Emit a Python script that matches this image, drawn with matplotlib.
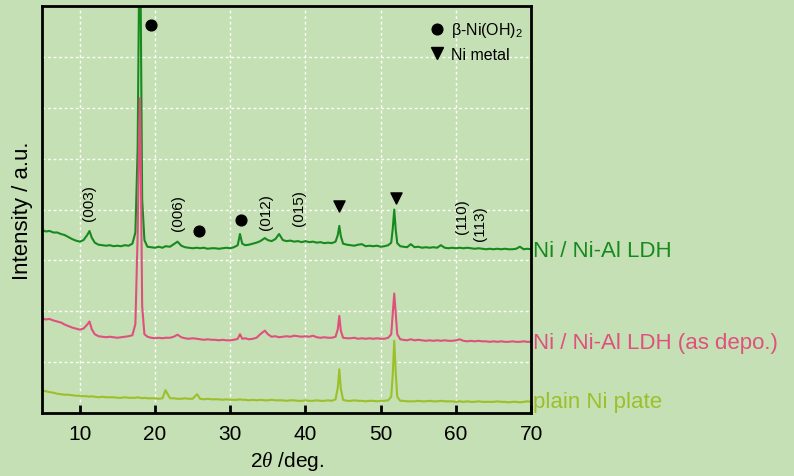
import matplotlib
matplotlib.use("Agg")
import matplotlib.pyplot as plt
from matplotlib.lines import Line2D

plt.rcParams['font.family'] = ['Liberation Sans', 'DejaVu Sans']
plt.rcParams['mathtext.fontset'] = 'custom'
plt.rcParams['mathtext.rm'] = 'Liberation Sans'
plt.rcParams['mathtext.it'] = 'Liberation Serif:italic'

# 2theta sampling (deg), shared by the three patterns
two_theta = [
    5.0, 5.5, 6.0, 6.5, 7.0, 7.5, 8.0, 8.5, 9.0, 9.5,
    10.0, 10.5, 11.0, 11.3, 11.6, 12.0, 12.5, 13.0, 13.5, 14.0,
    14.5, 15.0, 15.5, 16.0, 16.5, 17.0, 17.4, 17.7, 17.9, 18.0,
    18.1, 18.3, 18.6, 19.0, 19.5, 20.0, 20.5, 21.0, 21.4, 22.0,
    22.5, 23.0, 23.5, 24.0, 24.5, 25.0, 25.6, 26.0, 26.5, 27.0,
    27.5, 28.0, 28.5, 29.0, 29.5, 30.0, 30.5, 31.0, 31.3, 31.6,
    32.0, 32.5, 33.0, 33.5, 34.0, 34.6, 35.0, 35.5, 36.0, 36.5,
    37.0, 37.5, 38.0, 38.5, 39.0, 39.5, 40.0, 40.5, 41.0, 41.5,
    42.0, 42.5, 43.0, 43.5, 44.0, 44.3, 44.5, 44.7, 45.0, 45.5,
    46.0, 46.5, 47.0, 47.5, 48.0, 48.5, 49.0, 49.5, 50.0, 50.5,
    51.0, 51.4, 51.6, 51.8, 52.0, 52.2, 52.6, 53.0, 53.5, 54.0,
    54.5, 55.0, 55.5, 56.0, 56.5, 57.0, 57.5, 58.0, 58.5, 59.0,
    59.5, 60.0, 60.5, 61.0, 61.5, 62.0, 62.5, 63.0, 63.5, 64.0,
    64.5, 65.0, 65.5, 66.0, 66.5, 67.0, 67.5, 68.0, 68.5, 69.0,
    69.5, 70.0]

# Ni / Ni-Al LDH (offset intensity)
ldh = [
    3.60, 3.57, 3.58, 3.55, 3.55, 3.52, 3.50, 3.46, 3.42, 3.39,
    3.37, 3.40, 3.50, 3.58, 3.45, 3.35, 3.31, 3.30, 3.29, 3.30,
    3.28, 3.29, 3.28, 3.30, 3.29, 3.33, 3.55, 5.20, 8.60, 9.50,
    8.20, 4.20, 3.40, 3.27, 3.26, 3.25, 3.27, 3.25, 3.28, 3.27,
    3.32, 3.37, 3.29, 3.26, 3.25, 3.24, 3.25, 3.24, 3.25, 3.23,
    3.24, 3.24, 3.23, 3.24, 3.25, 3.24, 3.26, 3.30, 3.52, 3.33,
    3.30, 3.31, 3.33, 3.35, 3.38, 3.44, 3.40, 3.38, 3.42, 3.52,
    3.40, 3.38, 3.39, 3.37, 3.38, 3.36, 3.38, 3.36, 3.37, 3.35,
    3.36, 3.34, 3.35, 3.34, 3.37, 3.50, 3.68, 3.48, 3.33, 3.31,
    3.30, 3.29, 3.31, 3.32, 3.28, 3.29, 3.28, 3.29, 3.27, 3.28,
    3.30, 3.35, 3.62, 4.00, 3.60, 3.34, 3.28, 3.27, 3.26, 3.32,
    3.26, 3.27, 3.25, 3.26, 3.25, 3.26, 3.25, 3.30, 3.25, 3.24,
    3.25, 3.24, 3.25, 3.24, 3.25, 3.24, 3.23, 3.24, 3.23, 3.22,
    3.23, 3.22, 3.23, 3.22, 3.23, 3.22, 3.22, 3.23, 3.27, 3.22,
    3.23, 3.22]

# Ni / Ni-Al LDH (as depo.)
ldh_depo = [
    1.86, 1.84, 1.85, 1.82, 1.80, 1.78, 1.74, 1.71, 1.68, 1.66,
    1.64, 1.66, 1.74, 1.80, 1.65, 1.55, 1.51, 1.50, 1.49, 1.50,
    1.49, 1.48, 1.49, 1.50, 1.51, 1.53, 1.75, 3.50, 5.40, 6.19,
    5.20, 2.10, 1.55, 1.50, 1.48, 1.47, 1.48, 1.47, 1.48, 1.48,
    1.50, 1.54, 1.49, 1.47, 1.46, 1.47, 1.46, 1.45, 1.44, 1.45,
    1.44, 1.44, 1.43, 1.44, 1.43, 1.43, 1.44, 1.46, 1.55, 1.46,
    1.47, 1.45, 1.46, 1.48, 1.55, 1.62, 1.55, 1.50, 1.51, 1.49,
    1.50, 1.51, 1.50, 1.52, 1.51, 1.50, 1.51, 1.50, 1.52, 1.49,
    1.48, 1.49, 1.48, 1.48, 1.50, 1.65, 1.91, 1.62, 1.48, 1.47,
    1.47, 1.48, 1.46, 1.47, 1.46, 1.47, 1.46, 1.47, 1.46, 1.46,
    1.48, 1.55, 1.95, 2.35, 1.95, 1.55, 1.45, 1.44, 1.43, 1.45,
    1.43, 1.44, 1.43, 1.42, 1.43, 1.42, 1.43, 1.42, 1.43, 1.42,
    1.42, 1.43, 1.45, 1.42, 1.41, 1.42, 1.41, 1.42, 1.41, 1.41,
    1.40, 1.41, 1.40, 1.41, 1.40, 1.40, 1.41, 1.40, 1.40, 1.41,
    1.40, 1.40]

# plain Ni plate
plain = [
    0.44, 0.43, 0.41, 0.40, 0.38, 0.37, 0.36, 0.36, 0.35, 0.34,
    0.34, 0.33, 0.33, 0.32, 0.33, 0.32, 0.31, 0.32, 0.31, 0.31,
    0.31, 0.30, 0.30, 0.31, 0.30, 0.30, 0.30, 0.31, 0.30, 0.30,
    0.30, 0.29, 0.30, 0.29, 0.29, 0.29, 0.28, 0.29, 0.45, 0.29,
    0.29, 0.28, 0.28, 0.29, 0.28, 0.28, 0.37, 0.28, 0.27, 0.28,
    0.27, 0.27, 0.27, 0.26, 0.27, 0.26, 0.26, 0.26, 0.27, 0.26,
    0.26, 0.25, 0.26, 0.25, 0.26, 0.25, 0.25, 0.26, 0.25, 0.25,
    0.25, 0.24, 0.25, 0.25, 0.24, 0.24, 0.25, 0.24, 0.24, 0.25,
    0.24, 0.24, 0.25, 0.24, 0.27, 0.50, 0.86, 0.48, 0.26, 0.24,
    0.24, 0.25, 0.24, 0.24, 0.23, 0.24, 0.24, 0.23, 0.24, 0.24,
    0.25, 0.32, 0.75, 1.42, 0.80, 0.32, 0.24, 0.24, 0.23, 0.23,
    0.23, 0.24, 0.23, 0.23, 0.24, 0.23, 0.23, 0.24, 0.23, 0.23,
    0.23, 0.22, 0.23, 0.22, 0.23, 0.22, 0.22, 0.23, 0.22, 0.22,
    0.22, 0.22, 0.23, 0.22, 0.22, 0.21, 0.22, 0.22, 0.21, 0.22,
    0.23, 0.22]

series_names = ['Ni / Ni-Al LDH', 'Ni / Ni-Al LDH (as depo.)', 'plain Ni plate']
series_colors = ['#178a1f', '#e0507e', '#9cbf2a']
label_y = [3.20, 1.39, 0.22]

# peak markers
ni_oh_x = [19.5, 25.9, 31.4]
ni_oh_y = [7.62, 3.58, 3.79]
ni_x = [44.5, 52.0]
ni_y = [4.07, 4.22]

# hkl labels of LDH
hkl = ['(003)', '(006)', '(012)', '(015)', '(110)', '(113)']
hkl_x = [11.3, 23.0, 34.8, 39.1, 60.8, 63.2]
hkl_y = [4.14, 3.95, 3.97, 4.04, 3.88, 3.75]

bg = '#c5e0b4'
fig = plt.figure(figsize=(7.94, 4.77), dpi=100, facecolor=bg)
ax = fig.add_axes([0.053, 0.132, 0.616, 0.853])
ax.set_facecolor(bg)

for ys, c in zip([ldh, ldh_depo, plain], series_colors):
    ax.plot(two_theta, ys, color=c, lw=1.5)

for name, c, y in zip(series_names, series_colors, label_y):
    ax.text(70.2, y, name, color=c, fontsize=16, va='center', ha='left', clip_on=False)

ax.scatter(ni_oh_x, ni_oh_y, marker='o', s=60, color='black', zorder=5)
ax.scatter(ni_x, ni_y, marker='v', s=64, color='black', zorder=5)

for t, x, y in zip(hkl, hkl_x, hkl_y):
    ax.text(x, y, t, rotation=90, fontsize=11, ha='center', va='center')

handles = [Line2D([], [], marker='o', color='black', ls='none', markersize=7.7),
           Line2D([], [], marker='v', color='black', ls='none', markersize=8)]
ax.legend(handles, ['β-Ni(OH)$_2$', 'Ni metal'], loc='upper left',
          bbox_to_anchor=(0.791, 0.965), frameon=False, fontsize=11.5,
          handlelength=1, handletextpad=0.4, borderpad=0, borderaxespad=0,
          labelspacing=0.45)

ax.set_xlim(5, 70)
ax.set_ylim(0, 8)
ax.set_xticks([10, 20, 30, 40, 50, 60, 70])
ax.set_yticks([1, 2, 3, 4, 5, 6, 7])
ax.tick_params(axis='x', direction='in', length=6, width=2, labelsize=15, pad=8, top=False)
ax.tick_params(axis='y', left=False, labelleft=False)
ax.grid(True, color='white', ls=(0, (2, 2)), lw=1)
for s in ax.spines.values():
    s.set_linewidth(2)

ax.set_xlabel(r'2$\theta$ /deg.', fontsize=15, labelpad=4)
ax.set_ylabel('Intensity / a.u.', fontsize=16)
ax.yaxis.set_label_coords(-0.018, 0.5)

fig.savefig('out.png', dpi=100, facecolor=bg)
